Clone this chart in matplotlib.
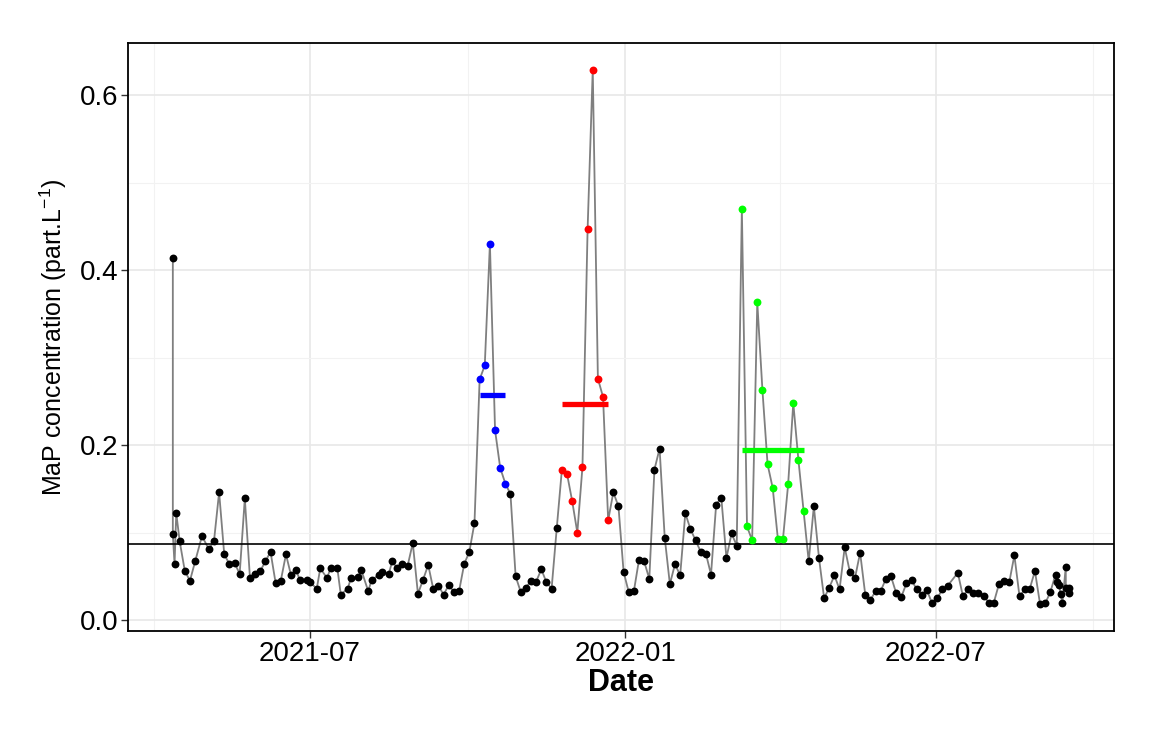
import numpy as np
import pandas as pd
import matplotlib
matplotlib.use("Agg")
import matplotlib.pyplot as plt
import matplotlib.dates as mdates
from matplotlib.ticker import MultipleLocator, FormatStrFormatter

plt.rcParams['font.family'] = ['Liberation Sans', 'DejaVu Sans']

# sampling day (days after campaign start) and MaP concentration (part/L)
start = pd.Timestamp("2021-04-01")
day = [11, 11, 12, 13, 15, 18, 21, 24, 28, 32, 35, 38, 41, 44, 47, 50, 53, 56, 59, 62,
       65, 68, 71, 74, 77, 80, 83, 85, 89, 91, 95, 97, 101, 103, 107, 109, 113, 115, 119, 121,
       125, 127, 131, 133, 137, 139, 142, 145, 148, 151, 154, 157, 160, 163, 166, 169, 172, 175, 178, 181,
       184, 187, 190, 193, 196, 199, 202, 205, 208, 211, 214, 217, 220, 223, 226, 229, 232, 235, 238, 241,
       244, 247, 250, 253, 256, 259, 262, 265, 268, 271, 274, 277, 280, 283, 286, 289, 292, 295, 298, 301,
       304, 307, 310, 313, 316, 319, 322, 325, 328, 331, 334, 337, 340, 343, 346, 349, 352, 355, 358, 361,
       364, 367, 370, 373, 376, 379, 382, 385, 388, 391, 394, 397, 400, 403, 406, 409, 412, 415, 418, 421,
       424, 427, 430, 433, 436, 439, 442, 445, 448, 451, 454, 457, 460, 463, 469, 472, 475, 478, 481, 484,
       487, 490, 493, 496, 499, 502, 505, 508, 511, 514, 517, 520, 523, 526, 527, 528, 529, 530, 532, 532,
       534, 534]
conc = [0.414, 0.098, 0.064, 0.122, 0.090, 0.056, 0.045, 0.067, 0.096, 0.081, 0.090, 0.146, 0.075, 0.064, 0.065, 0.053, 0.139, 0.048, 0.053, 0.056,
        0.067, 0.078, 0.042, 0.045, 0.075, 0.051, 0.057, 0.046, 0.046, 0.043, 0.036, 0.059, 0.048, 0.059, 0.059, 0.029, 0.036, 0.048, 0.049, 0.057,
        0.033, 0.046, 0.051, 0.055, 0.053, 0.067, 0.059, 0.064, 0.062, 0.088, 0.030, 0.046, 0.063, 0.035, 0.039, 0.029, 0.040, 0.032, 0.033, 0.064,
        0.078, 0.111, 0.275, 0.291, 0.430, 0.217, 0.174, 0.156, 0.144, 0.050, 0.032, 0.037, 0.045, 0.044, 0.058, 0.043, 0.036, 0.105, 0.172, 0.167,
        0.136, 0.100, 0.175, 0.447, 0.629, 0.276, 0.255, 0.114, 0.146, 0.130, 0.055, 0.032, 0.033, 0.069, 0.067, 0.047, 0.172, 0.196, 0.094, 0.041,
        0.064, 0.051, 0.122, 0.104, 0.091, 0.078, 0.076, 0.052, 0.132, 0.140, 0.071, 0.099, 0.085, 0.470, 0.107, 0.091, 0.363, 0.263, 0.178, 0.151,
        0.093, 0.093, 0.155, 0.248, 0.183, 0.125, 0.067, 0.130, 0.071, 0.025, 0.037, 0.051, 0.035, 0.083, 0.055, 0.048, 0.077, 0.029, 0.023, 0.033,
        0.033, 0.047, 0.050, 0.031, 0.026, 0.042, 0.046, 0.035, 0.029, 0.034, 0.019, 0.025, 0.035, 0.039, 0.054, 0.027, 0.035, 0.031, 0.031, 0.028,
        0.020, 0.020, 0.041, 0.045, 0.043, 0.074, 0.027, 0.035, 0.036, 0.056, 0.018, 0.019, 0.032, 0.052, 0.043, 0.040, 0.030, 0.019, 0.061, 0.037,
        0.037, 0.031]

# pollution events (first and last sampling day of each)
event_first = [190, 238, 343]
event_last = [205, 265, 379]
event_colors = ["#0000FF", "#FF0000", "#00FF00"]

threshold = 0.087

day = np.array(day)
conc = np.array(conc)
dates = start + pd.to_timedelta(day, unit="D")

fig = plt.figure(figsize=(11.68, 7.30), dpi=100)
ax = fig.add_axes([0.1096, 0.1356, 0.8442, 0.8055])

ax.plot(dates, conc, color="#7f7f7f", lw=1.3, zorder=2)

in_event = np.zeros(len(day), dtype=bool)
for first, last, col in zip(event_first, event_last, event_colors):
    mask = (day >= first) & (day <= last)
    in_event |= mask
    m = conc[mask].mean()
    ax.plot([start + pd.Timedelta(days=first), start + pd.Timedelta(days=last)], [m, m],
            color=col, lw=3.8, solid_capstyle="butt", zorder=3)
    ax.scatter(dates[mask], conc[mask], s=32, color=col, zorder=4, linewidths=0)

ax.scatter(dates[~in_event], conc[~in_event], s=32, color="black", zorder=4, linewidths=0)

ax.axhline(threshold, color="black", lw=1.2, zorder=3)

ax.margins(x=0.05, y=0.05)

ax.xaxis.set_major_locator(mdates.MonthLocator(bymonth=[1, 7]))
ax.xaxis.set_minor_locator(mdates.MonthLocator(bymonth=[4, 10]))
ax.xaxis.set_major_formatter(mdates.DateFormatter("%Y-%m"))
ax.yaxis.set_major_locator(MultipleLocator(0.2))
ax.yaxis.set_minor_locator(MultipleLocator(0.1))
ax.yaxis.set_major_formatter(FormatStrFormatter("%.1f"))

ax.grid(which="major", color="#E8E8E8", lw=1.2)
ax.grid(which="minor", color="#F2F2F2", lw=0.8)
ax.set_axisbelow(True)

ax.tick_params(which="major", length=5, width=1, color="#333333", labelsize=20, labelcolor="black", pad=2)
ax.tick_params(which="minor", length=0)
for s in ax.spines.values():
    s.set_linewidth(1.3)
    s.set_color("black")

ax.set_xlabel("Date", fontsize=22, fontweight="bold", labelpad=1)
ax.set_ylabel("MaP concentration (part.L$^{\\mathregular{-1}}$)", fontsize=18, labelpad=8)

fig.savefig("out.png", dpi=100)
